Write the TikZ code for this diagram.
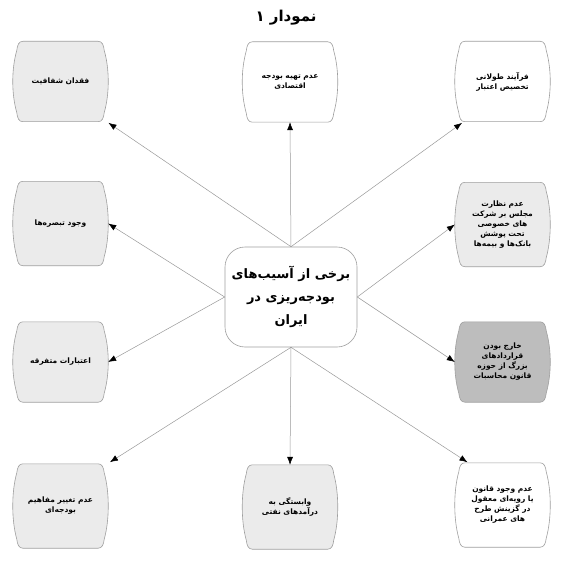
\documentclass[tikz,border=0pt]{standalone}
\usepackage{fontspec}
\TeXXeTstate=1
\newfontfamily\fa[Script=Arabic]{DejaVu Sans}
\usetikzlibrary{arrows.meta,backgrounds,calc}
\newcommand\RL[1]{\beginR #1\endR}
\colorlet{lightfill}{gray!16}
\colorlet{darkfill}{gray!52}
\newcommand\barrel[2]{%
 \path[boxline,fill=#2] let \p1=(#1.north west), \p2=(#1.south east) in
  (\x1+10pt,\y1) -- (\x2-10pt,\y1)
  .. controls (\x2-6pt,\y1) and (\x2-4.5pt,\y1-4pt) .. (\x2-4pt,\y1-9pt)
  .. controls (\x2+1.4pt,\y1-28pt) and (\x2+1.4pt,\y2+28pt) .. (\x2-4pt,\y2+9pt)
  .. controls (\x2-4.5pt,\y2+4pt) and (\x2-6pt,\y2) .. (\x2-10pt,\y2)
  -- (\x1+10pt,\y2)
  .. controls (\x1+6pt,\y2) and (\x1+4.5pt,\y2+4pt) .. (\x1+4pt,\y2+9pt)
  .. controls (\x1-1.4pt,\y2+28pt) and (\x1-1.4pt,\y1-28pt) .. (\x1+4pt,\y1-9pt)
  .. controls (\x1+4.5pt,\y1-4pt) and (\x1+6pt,\y1) .. (\x1+10pt,\y1) -- cycle;}
\tikzset{
 boxtext/.style={rectangle, minimum width=95pt, minimum height=80pt, inner sep=0pt, align=center,
   font=\fa\bfseries\fontsize{7.5}{10}\selectfont},
 tallbox/.style={minimum height=84pt},
 conn/.style={draw=gray!80, line width=0.5pt, -{Latex[length=8pt,width=6pt,color=black]}},
 boxline/.style={draw=gray!75, line width=0.6pt},
 centerbox/.style={rectangle, draw=gray!75, line width=0.6pt, rounded corners=20pt, fill=white,
   minimum width=132pt, minimum height=100pt, align=center, inner sep=0pt,
   font=\fa\bfseries\fontsize{13}{23}\selectfont},
 titletext/.style={font=\fa\bfseries\fontsize{15}{17}\selectfont, inner sep=0pt}
}
\begin{document}
\begin{tikzpicture}[x=1pt,y=1pt]
\useasboundingbox (0,0) rectangle (564,-567);
\node[titletext] (title) at (286,-18) {\RL{نمودار ۱}};
\node[boxtext] (tl) at (60.5,-81.5) {\RL{فقدان شفافیت}};
\node[boxtext] (tc) at (290,-82) {\RL{عدم تهیه بودجه}\\\RL{اقتصادی}};
\node[boxtext] (tr) at (502.5,-81.5) {\RL{فرآیند طولانی}\\\RL{تخصیص اعتبار}};
\node[boxtext,tallbox] (ml1) at (60.5,-223.5) {\RL{وجود تبصره‌ها}};
\node[boxtext,tallbox] (mr1) at (502.5,-224.5) {\RL{عدم نظارت}\\\RL{مجلس بر شرکت}\\\RL{های خصوصی}\\\RL{تحت پوشش}\\\RL{بانک‌ها و بیمه‌ها}};
\node[boxtext] (ml2) at (60.5,-362) {\RL{اعتبارات متفرقه}};
\node[boxtext] (mr2) at (502.5,-362) {\RL{خارج بودن}\\\RL{قراردادهای}\\\RL{بزرگ از حوزه}\\\RL{قانون محاسبات}};
\node[boxtext,tallbox] (bl) at (60.5,-506) {\RL{عدم تغییر مفاهیم}\\\RL{بودجه‌ای}};
\node[boxtext,tallbox] (bc) at (290,-507) {\RL{وابستگی به}\\\RL{درآمدهای نفتی}};
\node[boxtext,tallbox] (br) at (502.5,-505) {\RL{عدم وجود قانون}\\\RL{یا رویه‌ای معقول}\\\RL{در گزینش طرح}\\\RL{های عمرانی}};
\node[centerbox] (c) at (291,-297) {\RL{برخی از آسیب‌های}\\\RL{بودجه‌ریزی در}\\\RL{ایران}};
\begin{pgfonlayer}{background}
 \fill[white] (0,0) rectangle (564,-567);
 \barrel{tl}{lightfill}
 \barrel{tc}{white}
 \barrel{tr}{white}
 \barrel{ml1}{lightfill}
 \barrel{mr1}{lightfill}
 \barrel{ml2}{lightfill}
 \barrel{mr2}{darkfill}
 \barrel{bl}{lightfill}
 \barrel{bc}{lightfill}
 \barrel{br}{white}
\end{pgfonlayer}
\draw[conn,shorten >=2pt] (c.north) -- (tl.-41);
\draw[conn] (c.north) -- (tc.south);
\draw[conn,shorten >=2pt] (c.north) -- (tr.-134);
\draw[conn] (c.west) -- (ml1.east);
\draw[conn] (c.west) -- (ml2.east);
\draw[conn] (c.east) -- (mr1.west);
\draw[conn] (c.east) -- (mr2.west);
\draw[conn,shorten >=3pt] (c.south) -- (bl.42);
\draw[conn] (c.south) -- (bc.north);
\draw[conn,shorten >=1pt] (c.south) -- (br.129);
\end{tikzpicture}
\end{document}
